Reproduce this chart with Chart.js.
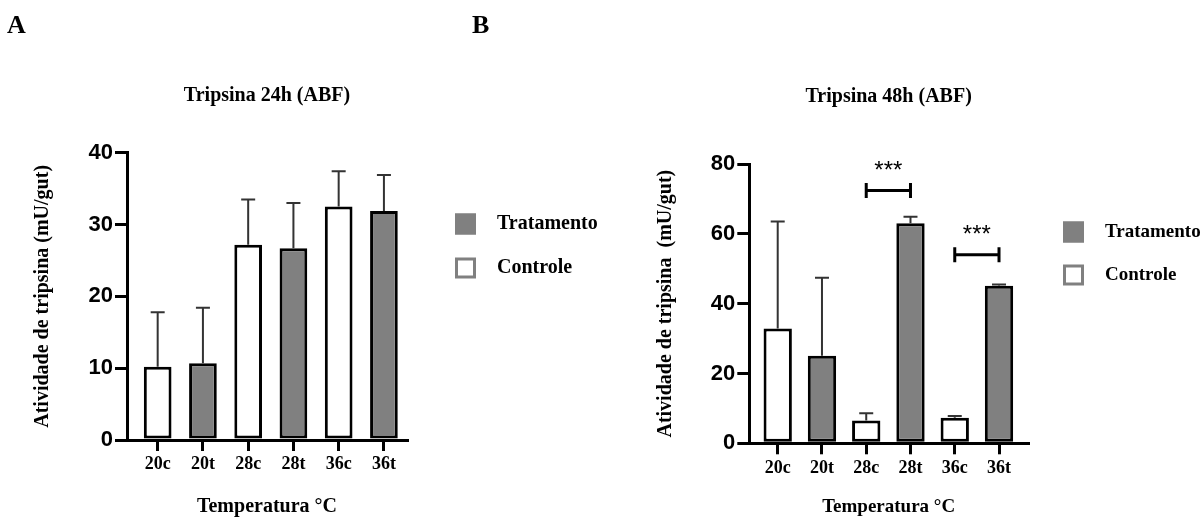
<!DOCTYPE html>
<html><head><meta charset="utf-8">
<script src="https://cdn.jsdelivr.net/npm/chart.js@4.4.1/dist/chart.umd.min.js"></script>
<style>
html,body{margin:0;padding:0;background:#fff;}
#wrap{position:relative;width:1203px;height:517px;overflow:hidden;background:#fff;}
canvas{position:absolute;top:0;}
.panel{position:absolute;top:12px;font:bold 26px "Liberation Serif","Times New Roman",serif;line-height:26px;color:#000;}
</style></head><body>
<div id="wrap">
<canvas id="cA" width="601" height="517" style="left:0;width:601px;height:517px"></canvas>
<canvas id="cB" width="602" height="517" style="left:601px;width:602px;height:517px"></canvas>
<div class="panel" style="left:7px">A</div>
<div class="panel" style="left:472px">B</div>
</div>
<script>
// ---- data ----
const categories = ['20c','20t','28c','28t','36c','36t'];
const groupOf = ['Controle','Tratamento','Controle','Tratamento','Controle','Tratamento'];
const mean24h = [10.2, 10.7, 27.2, 26.7, 32.5, 31.9];
const sd24h   = [7.6, 7.7, 6.3, 6.3, 4.9, 5.0];
const mean48h = [32.9, 25.1, 6.5, 63.0, 7.3, 45.1];
const sd48h   = [30.6, 22.3, 2.1, 1.9, 0.5, 0.4];
const yTicks24h = [0, 10, 20, 30, 40];
const yTicks48h = [0, 20, 40, 60, 80];
const sigPairs48h = [[2, 3], [4, 5]];
const sigLevels48h = [72.4, 54];
const sigLabels48h = ['***', '***'];

const SERIF = '"Liberation Serif","Times New Roman",serif';
const SANS = '"Liberation Sans",Arial,sans-serif';

function buildDatasets(mean, sd) {
  const series = [
    {label: 'Tratamento', bg: '#808080', legendBorder: '#808080'},
    {label: 'Controle', bg: '#ffffff', legendBorder: '#808080'}
  ];
  return series.map(s => {
    const idx = categories.map((c, i) => i).filter(i => groupOf[i] === s.label);
    return {
      label: s.label,
      data: idx.map(i => ({x: i, y: mean[i]})),
      errors: idx.map(i => sd[i]),
      backgroundColor: s.bg,
      borderColor: '#000',
      borderWidth: 3,
      borderSkipped: false,
      grouped: false,
      legendBorder: s.legendBorder
    };
  });
}

const errorBars = {
  id: 'errorBars',
  afterDatasetsDraw(chart, args, o) {
    const {ctx} = chart; const y = chart.scales.y;
    ctx.save();
    ctx.strokeStyle = o.color; ctx.lineWidth = o.width;
    chart.data.datasets.forEach((ds, di) => {
      const meta = chart.getDatasetMeta(di);
      meta.data.forEach((el, i) => {
        const top = y.getPixelForValue(ds.data[i].y + ds.errors[i]);
        ctx.beginPath();
        ctx.moveTo(el.x, el.y); ctx.lineTo(el.x, top);
        ctx.moveTo(el.x - o.cap / 2, top); ctx.lineTo(el.x + o.cap / 2, top);
        ctx.stroke();
      });
    });
    ctx.restore();
  }
};

const sideLegend = {
  id: 'sideLegend',
  afterDraw(chart, args, o) {
    const {ctx} = chart;
    ctx.save();
    ctx.font = 'bold ' + o.size + 'px ' + SERIF;
    chart.data.datasets.forEach((ds, i) => {
      const cy = o.y + i * o.rowGap;
      ctx.fillStyle = ds.backgroundColor;
      ctx.fillRect(o.x, cy - o.box / 2, o.box, o.box);
      ctx.strokeStyle = ds.legendBorder; ctx.lineWidth = 3;
      ctx.strokeRect(o.x + 1.5, cy - o.box / 2 + 1.5, o.box - 3, o.box - 3);
      ctx.fillStyle = '#000'; ctx.textBaseline = 'middle'; ctx.textAlign = 'left';
      ctx.fillText(ds.label, o.textX, cy);
    });
    ctx.restore();
  }
};

const sigBrackets = {
  id: 'sigBrackets',
  afterDatasetsDraw(chart, args, o) {
    if (!o.pairs) return;
    const {ctx} = chart; const x = chart.scales.x, y = chart.scales.y;
    ctx.save();
    ctx.strokeStyle = '#000'; ctx.lineWidth = 3; ctx.fillStyle = '#000';
    ctx.font = o.size + 'px ' + SANS; ctx.textAlign = 'center'; ctx.textBaseline = 'alphabetic';
    o.pairs.forEach((p, k) => {
      const x1 = x.getPixelForValue(p[0]), x2 = x.getPixelForValue(p[1]);
      const py = y.getPixelForValue(o.levels[k]);
      ctx.beginPath();
      ctx.moveTo(x1, py); ctx.lineTo(x2, py);
      ctx.moveTo(x1, py - o.capH / 2); ctx.lineTo(x1, py + o.capH / 2);
      ctx.moveTo(x2, py - o.capH / 2); ctx.lineTo(x2, py + o.capH / 2);
      ctx.stroke();
      ctx.fillText(o.labels[k], (x1 + x2) / 2, py - o.textOffset);
    });
    ctx.restore();
  }
};

function makeChart(id, cfg) {
  const yt = cfg.yTicks;
  return new Chart(document.getElementById(id), {
    type: 'bar',
    data: {datasets: buildDatasets(cfg.mean, cfg.sd)},
    plugins: [errorBars, sideLegend, sigBrackets],
    options: {
      responsive: false,
      animation: false,
      events: [],
      categoryPercentage: 1,
      barPercentage: cfg.barPct,
      layout: {padding: cfg.pad},
      plugins: {
        legend: {display: false},
        tooltip: {enabled: false},
        title: {
          display: true, text: cfg.title, color: '#000', fullSize: false,
          font: {family: SERIF, weight: 'bold', size: 20, lineHeight: 1},
          padding: cfg.titlePad
        },
        errorBars: {color: '#333', width: 2, cap: 14},
        sideLegend: cfg.legend,
        sigBrackets: cfg.sig || {}
      },
      scales: {
        x: {
          type: 'linear', min: cfg.xMin, max: cfg.xMax, offset: false,
          afterBuildTicks: s => { s.ticks = categories.map((c, i) => ({value: i})); },
          afterFit: s => { s.height = cfg.xHeight; },
          ticks: {
            callback: v => categories[v], color: '#000', padding: 3, maxRotation: 0, autoSkip: false,
            font: {family: SERIF, weight: 'bold', size: 18}
          },
          grid: {display: true, offset: false, drawOnChartArea: false, drawTicks: true, tickLength: 11, color: '#000', lineWidth: 3},
          border: {display: true, color: '#000', width: 3},
          title: {
            display: true, text: 'Temperatura °C', color: '#000',
            font: {family: SERIF, weight: 'bold', size: cfg.xTitleSize, lineHeight: 1},
            padding: {top: 0, bottom: 0}
          }
        },
        y: {
          min: yt[0], max: yt[yt.length - 1],
          afterFit: s => { s.width = cfg.yWidth; },
          ticks: {stepSize: yt[1] - yt[0], color: '#000', padding: 2, font: {family: SANS, weight: 'bold', size: 22}},
          grid: {drawOnChartArea: false, drawTicks: true, tickLength: 12, color: '#000', lineWidth: 3},
          border: {display: true, color: '#000', width: 3},
          title: {
            display: true, text: cfg.yTitle, color: '#000',
            font: {family: SERIF, weight: 'bold', size: 20, lineHeight: 1},
            padding: {top: 0, bottom: 0}
          }
        }
      }
    }
  });
}

makeChart('cA', {
  mean: mean24h, sd: sd24h, yTicks: yTicks24h,
  title: 'Tripsina 24h (ABF)',
  yTitle: 'Atividade de tripsina (mU/gut)',
  xMin: -0.678, xMax: 5.51, barPct: 0.612,
  pad: {left: 33, right: 194, top: 0, bottom: 0.5},
  titlePad: {top: 86, bottom: 46.7},
  xHeight: 76.5, yWidth: 94, xTitleSize: 20,
  legend: {x: 455, y: 224, rowGap: 44, box: 21, textX: 497, size: 20}
});

makeChart('cB', {
  mean: mean48h, sd: sd48h, yTicks: yTicks48h,
  title: 'Tripsina 48h (ABF)',
  yTitle: 'Atividade de tripsina  (mU/gut)',
  xMin: -0.642, xMax: 5.655, barPct: 0.64,
  pad: {left: 55, right: 175, top: 0, bottom: 0.5},
  titlePad: {top: 87, bottom: 57},
  xHeight: 73.2, yWidth: 93.3, xTitleSize: 19,
  legend: {x: 462, y: 232, rowGap: 43, box: 21, textX: 504, size: 19},
  sig: {pairs: sigPairs48h, levels: sigLevels48h, labels: sigLabels48h, capH: 15, textOffset: 13, size: 24}
});
</script>
</body></html>
